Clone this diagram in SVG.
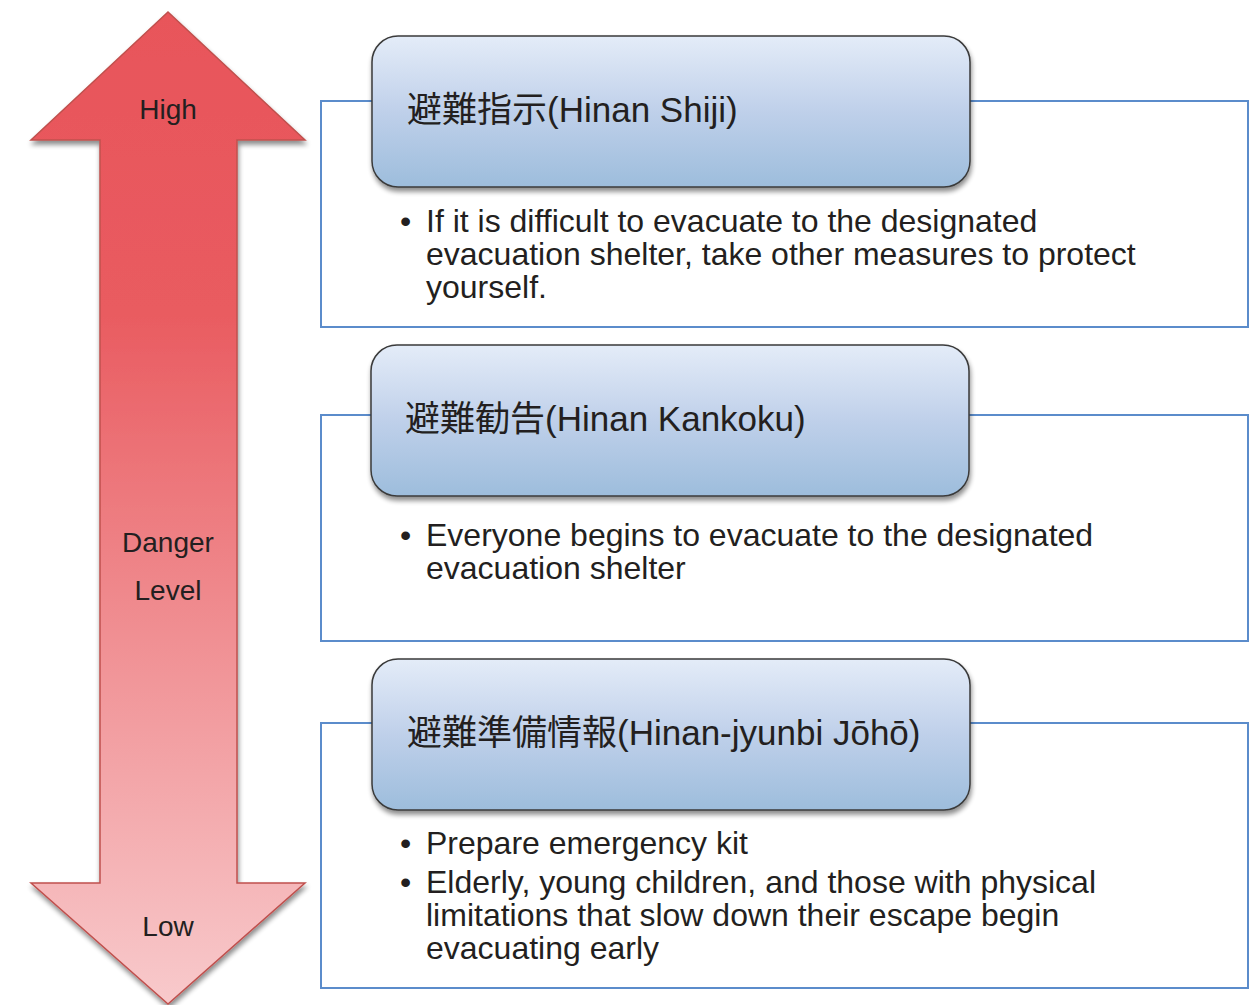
<svg xmlns="http://www.w3.org/2000/svg" width="1260" height="1005" viewBox="0 0 1260 1005">
<defs>
<linearGradient id="redg" x1="0" y1="12" x2="0" y2="1005" gradientUnits="userSpaceOnUse">
<stop offset="0" stop-color="#E8555A"/>
<stop offset="0.3" stop-color="#E95B60"/>
<stop offset="1" stop-color="#F8CACC"/>
</linearGradient>
<linearGradient id="blueg" x1="0" y1="0" x2="0" y2="1">
<stop offset="0" stop-color="#E4ECF8"/>
<stop offset="0.5" stop-color="#BFD0EA"/>
<stop offset="1" stop-color="#9DBDDC"/>
</linearGradient>
<filter id="sh" x="-10%" y="-10%" width="120%" height="130%">
<feGaussianBlur in="SourceAlpha" stdDeviation="2.5"/>
<feOffset dx="1" dy="4" result="o"/>
<feComponentTransfer><feFuncA type="linear" slope="0.45"/></feComponentTransfer>
<feMerge><feMergeNode/><feMergeNode in="SourceGraphic"/></feMerge>
</filter>
</defs>
<style>
.box{fill:#fff;stroke:#5B8CCB;stroke-width:2}
.hdr{fill:url(#blueg);stroke:#3A3A3A;stroke-width:1.5}
.ht{font-family:"Liberation Sans","Noto Sans CJK JP",sans-serif;font-size:35px;fill:#231F20}
.bt{font-family:"Liberation Sans",sans-serif;font-size:32px;fill:#231F20}
.lt{font-family:"Liberation Sans",sans-serif;font-size:28px;fill:#231F20;text-anchor:middle}
</style>
<g id="arrow">
<path d="M168,12 L305,140 L237,140 L237,883 L305,883 L168,1004 L31,883 L100,883 L100,140 L31,140 Z" fill="url(#redg)" stroke="#C0504D" stroke-width="1.5" filter="url(#sh)"/>
<text class="lt" x="168" y="119">High</text>
<text class="lt" x="168" y="552">Danger</text>
<text class="lt" x="168" y="600">Level</text>
<text class="lt" x="168" y="936">Low</text>
</g>
<g id="connectors"></g>
<g id="level1">
<rect class="box" x="321" y="101" width="927" height="226"/>
<rect class="hdr" x="372" y="36" width="598" height="151" rx="26" filter="url(#sh)"/>
<text class="ht" x="407" y="122">避難指示(Hinan Shiji)</text>
<text class="bt" x="400" y="232">•</text>
<text class="bt" x="426" y="232">If it is difficult to evacuate to the designated</text>
<text class="bt" x="426" y="265">evacuation shelter, take other measures to protect</text>
<text class="bt" x="426" y="298">yourself.</text>
</g>
<g id="level2">
<rect class="box" x="321" y="415" width="927" height="226"/>
<rect class="hdr" x="371" y="345" width="598" height="151" rx="26" filter="url(#sh)"/>
<text class="ht" x="405" y="431">避難勧告(Hinan Kankoku)</text>
<text class="bt" x="400" y="546">•</text>
<text class="bt" x="426" y="546">Everyone begins to evacuate to the designated</text>
<text class="bt" x="426" y="579">evacuation shelter</text>
</g>
<g id="level3">
<rect class="box" x="321" y="723" width="927" height="265"/>
<rect class="hdr" x="372" y="659" width="598" height="151" rx="26" filter="url(#sh)"/>
<text class="ht" x="407" y="745">避難準備情報(Hinan-jyunbi Jōhō)</text>
<text class="bt" x="400" y="854">•</text>
<text class="bt" x="426" y="854">Prepare emergency kit</text>
<text class="bt" x="400" y="893">•</text>
<text class="bt" x="426" y="893">Elderly, young children, and those with physical</text>
<text class="bt" x="426" y="926">limitations that slow down their escape begin</text>
<text class="bt" x="426" y="959">evacuating early</text>
</g>
</svg>
